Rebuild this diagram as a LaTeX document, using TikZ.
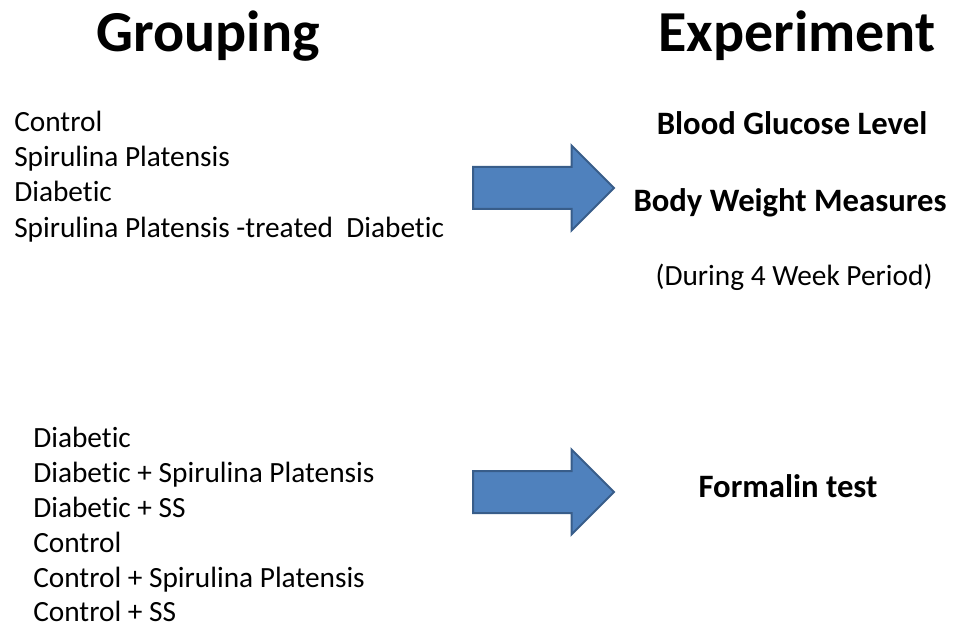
\documentclass[tikz,border=0pt]{standalone}
\usepackage{fontspec}
\setmainfont{Carlito}[Ligatures={NoCommon}]
\usetikzlibrary{shapes.arrows}

\definecolor{arrowfill}{HTML}{4F81BD}
\definecolor{arrowline}{HTML}{385D8A}

\tikzset{
  heading/.style={font=\bfseries\fontsize{43.5}{50}\selectfont, anchor=base, inner sep=0pt},
  item/.style={font=\fontsize{22}{26}\selectfont, anchor=base west, inner sep=0pt},
  measure/.style={font=\bfseries\fontsize{24.5}{29}\selectfont, anchor=base, inner sep=0pt},
  blockarrow/.style={single arrow, draw=arrowline, fill=arrowfill, line width=1.5pt,
    minimum height=141*0.75pt, single arrow head extend=21.5*0.75pt,
    inner xsep=0pt, inner ysep=20*0.75pt, anchor=tail}
}

\begin{document}
\begin{tikzpicture}[x=0.75pt,y=-0.75pt]
    \useasboundingbox (0,0) rectangle (955,627);

    % headings
    \node[heading] (grouping) at (208,52) {Grouping};
    \node[heading] (experiment) at (797,52) {Experiment};

    % first grouping
    \node[item] (g1) at (14,132) {Control};
    \node[item] (g2) at (14,167) {Spirulina Platensis};
    \node[item] (g3) at (14,202) {Diabetic};
    \node[item] (g4) at (14,237) {Spirulina Platensis -treated\ \ Diabetic};

    % first experiment
    \node[measure] (glucose) at (792,135) {Blood Glucose Level};
    \node[measure] (weight) at (790,212) {Body Weight Measures};
    \node[item, anchor=base] (period) at (794,285) {(During 4 Week Period)};

    % second grouping
    \node[item] (h1) at (33,447) {Diabetic};
    \node[item] (h2) at (33,482) {Diabetic + Spirulina Platensis};
    \node[item] (h3) at (33,517) {Diabetic + SS};
    \node[item] (h4) at (33,552) {Control};
    \node[item] (h5) at (33,587) {Control + Spirulina Platensis};
    \node[item] (h6) at (33,621) {Control + SS};

    % second experiment
    \node[measure] (formalin) at (788,497) {Formalin test};

    % arrows
    \node[blockarrow] (arrowA) at (472,188) {};
    \node[blockarrow] (arrowB) at (472,492) {};
  \end{tikzpicture}
\end{document}
